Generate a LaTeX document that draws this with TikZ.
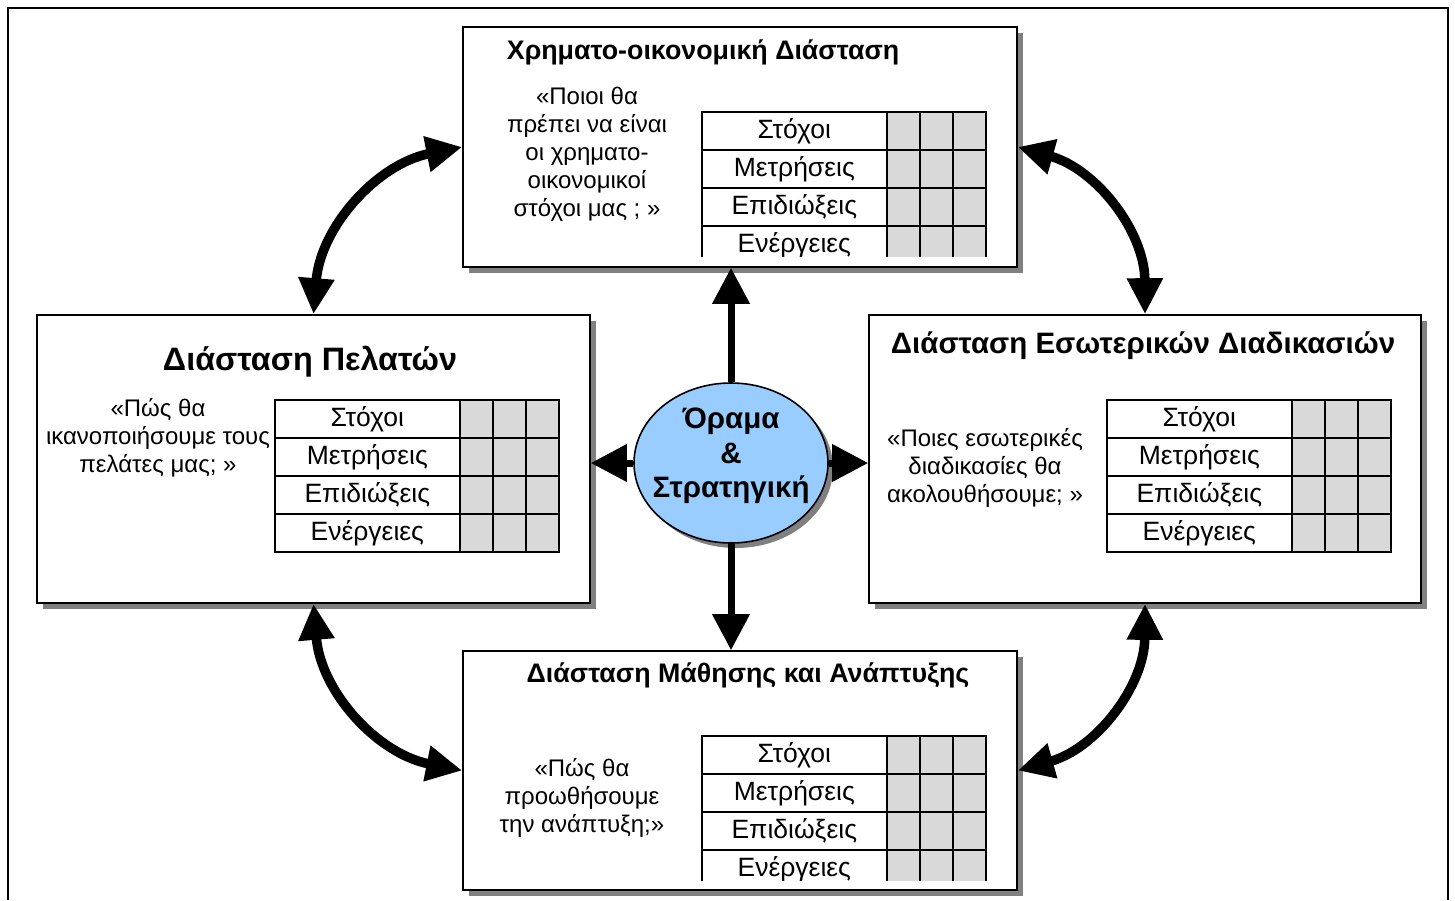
\documentclass[tikz,border=0pt]{standalone}
\usepackage{fontspec}
\setmainfont{Liberation Sans}
\usetikzlibrary{arrows.meta,shadows,shapes.geometric}

\definecolor{shadowgray}{HTML}{808080}
\definecolor{cellgray}{HTML}{D9D9D9}
\definecolor{visionblue}{HTML}{99CCFF}

% One scorecard table: prefix, left x, top y
\newcommand\scorecard[3]{%
  \foreach \lbl [count=\r from 0] in {Στόχοι,Μετρήσεις,Επιδιώξεις,Ενέργειες}{%
    \node[rowlabel, anchor=north west] (#1-\r) at (#2,#3+38*\r) {\lbl};
    \foreach \c in {0,1,2}
      \node[scorecell, anchor=north west] (#1-\r-\c) at (#2+185+33*\c,#3+38*\r) {};
  }}

\begin{document}
\begin{tikzpicture}[x=1pt,y=-1pt,
  panel/.style={draw, line width=1.6pt, fill=white, rectangle, inner sep=0pt,
    general shadow={fill=shadowgray, shadow xshift=6pt, shadow yshift=-6pt}},
  rowlabel/.style={draw, line width=1.6pt, rectangle, inner sep=0pt,
    minimum width=185pt, minimum height=38pt,
    font=\fontsize{26.5}{30}\selectfont},
  scorecell/.style={draw, line width=1.6pt, fill=cellgray, rectangle, inner sep=0pt,
    minimum width=33pt, minimum height=38pt},
  question/.style={align=center, inner sep=0pt, font=\fontsize{24}{28}\selectfont},
  paneltitle/.style={inner sep=0pt, font=\bfseries\fontsize{#1}{#1}\selectfont},
  vision/.style={ellipse, draw, line width=1.6pt, fill=visionblue, inner sep=0pt,
    minimum width=194pt, minimum height=160pt,
    general shadow={fill=shadowgray, shadow xshift=5pt, shadow yshift=-5pt}},
  spoke/.style={line width=7pt, -{Triangle[length=36pt,width=36pt]}},
  swing/.style={line width=9.5pt,
    {Triangle[length=36pt,width=34pt]}-{Triangle[length=36pt,width=34pt]}},
]
\useasboundingbox (0,0) rectangle (1455,900);

% outer frame
\draw[line width=1.6pt] (8,900) -- (8,8) -- (1448,8) -- (1448,900);

% the four perspective panels
\node[panel, minimum width=554pt, minimum height=240pt] (fin) at (740,147) {};
\node[panel, minimum width=553pt, minimum height=288pt] (cust) at (313.5,459) {};
\node[panel, minimum width=552pt, minimum height=288pt] (proc) at (1145,459) {};
\node[panel, minimum width=554pt, minimum height=239pt] (learn) at (740,770.5) {};

% panel titles
\node[paneltitle=26.8] (fin-title) at (703,52) {Χρηματο-οικονομική Διάσταση};
\node[paneltitle=32.4] (cust-title) at (310,362) {Διάσταση Πελατών};
\node[paneltitle=29.5] (proc-title) at (1143,346) {Διάσταση Εσωτερικών Διαδικασιών};
\node[paneltitle=26.8] (learn-title) at (748,675) {Διάσταση Μάθησης και Ανάπτυξης};

% guiding questions
\node[question] (fin-q) at (587,154) {«Ποιοι θα\\πρέπει να είναι\\οι χρηματο-\\οικονομικοί\\στόχοι μας ; »};
\node[question] (cust-q) at (158,438) {«Πώς θα\\ικανοποιήσουμε τους\\πελάτες μας; »};
\node[question] (proc-q) at (985,468) {«Ποιες εσωτερικές\\διαδικασίες θα\\ακολουθήσουμε; »};
\node[question] (learn-q) at (582,798) {«Πώς θα\\προωθήσουμε\\την ανάπτυξη;»};

% scorecard tables (top and bottom ones are cut off at the last row)
\begin{scope}
  \clip (690,100) rectangle (1000,256);
  \scorecard{fin-t}{701}{111}
\end{scope}
\scorecard{cust-t}{274}{399}
\scorecard{proc-t}{1106}{399}
\begin{scope}
  \clip (690,724) rectangle (1000,880);
  \scorecard{learn-t}{701}{735}
\end{scope}

% vision and strategy in the middle
\node[vision] (vis) at (731,463) {};
\node[align=center, inner sep=0pt, font=\bfseries\fontsize{29.5}{34.5}\selectfont]
  (vis-text) at (731,456) {Όραμα\\\&\\Στρατηγική};

% spokes from the centre to each panel
\draw[spoke] (vis.north) -- (vis.north |- fin.south);
\draw[spoke] (vis.south) -- (vis.south |- learn.north);
\draw[spoke] (vis.west) -- (vis.west -| cust.east);
\draw[spoke] (vis.east) -- (vis.east -| proc.west);

% two-way links between neighbouring panels
\draw[swing] (cust.north) to[bend left=37] (fin.west);
\draw[swing] (proc.north) to[bend right=37] (fin.east);
\draw[swing] (cust.south) to[bend right=37] (learn.west);
\draw[swing] (proc.south) to[bend left=37] (learn.east);
\end{tikzpicture}
\end{document}
